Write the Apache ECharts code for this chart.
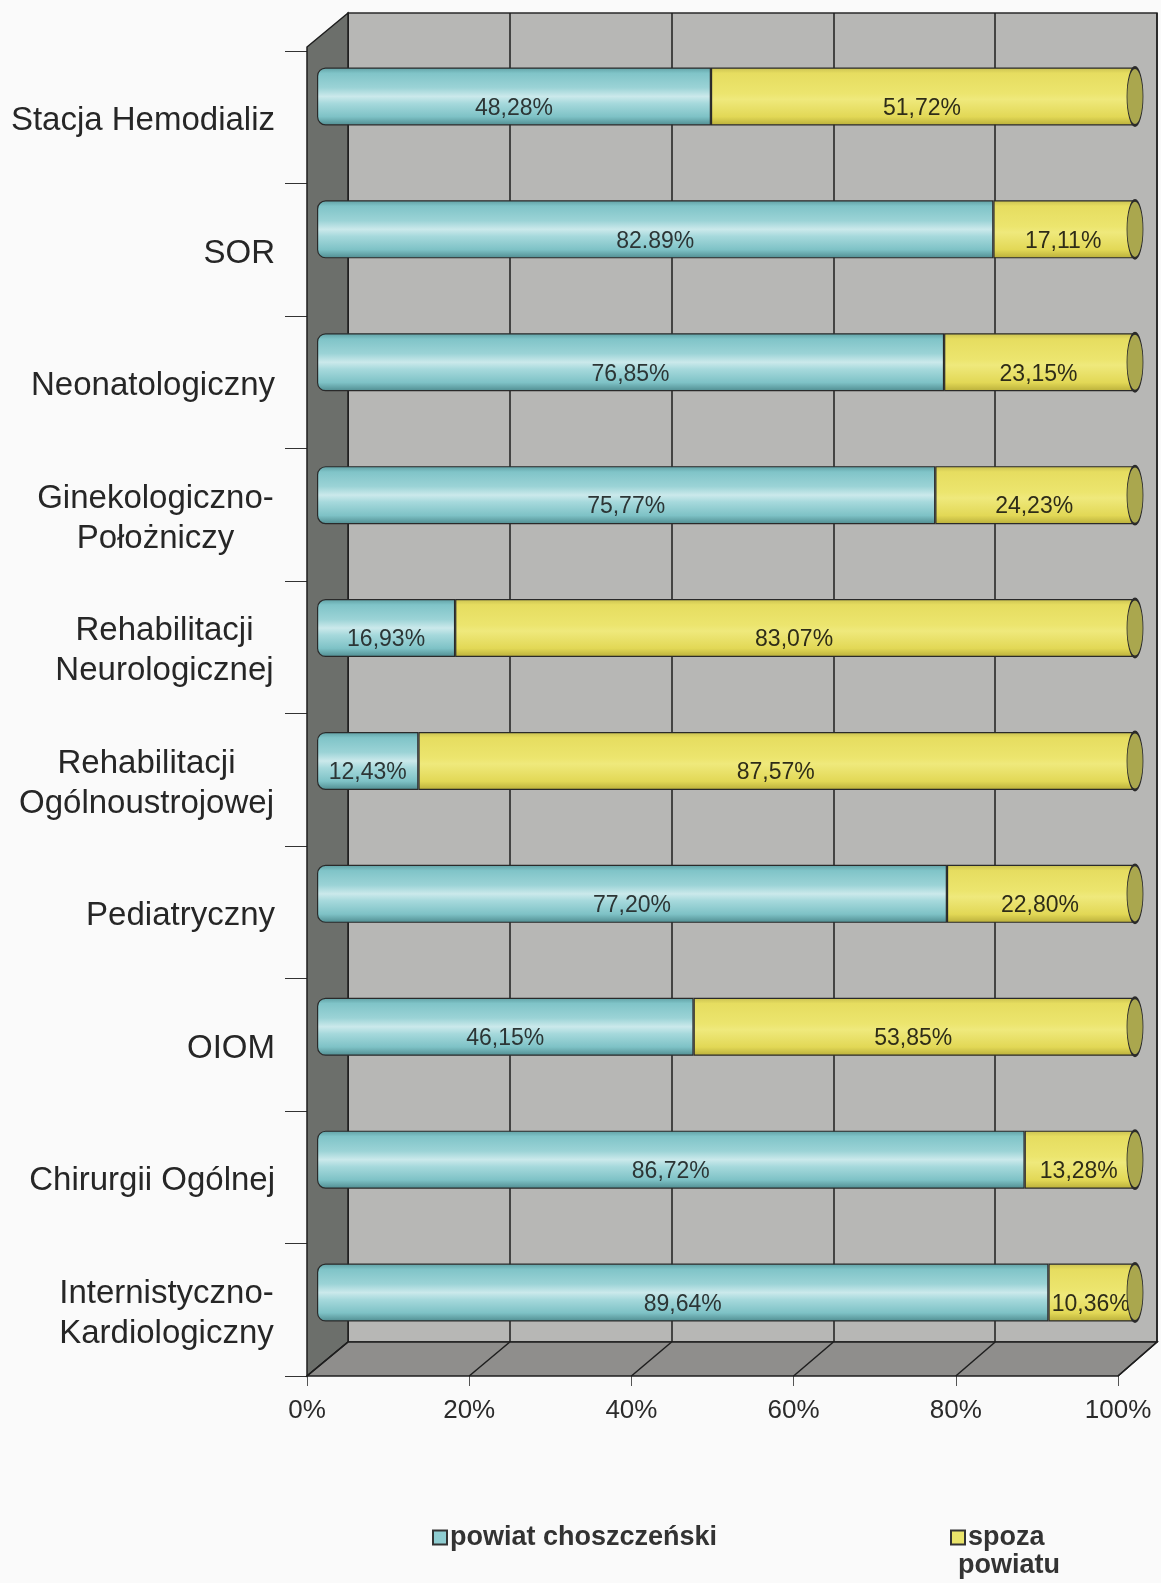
<!DOCTYPE html>
<html>
<head>
<meta charset="utf-8">
<script src="https://cdn.jsdelivr.net/npm/echarts@6/dist/echarts.min.js"></script>
<style>
  html, body { margin: 0; padding: 0; background: #fafafa; }
  #main { width: 1161px; height: 1583px; }
</style>
</head>
<body>
<div id="main"></div>
<script>
var categories = ['Stacja Hemodializ', 'SOR', 'Neonatologiczny', 'Ginekologiczno-\nPołożniczy',
    'Rehabilitacji\nNeurologicznej', 'Rehabilitacji\nOgólnoustrojowej', 'Pediatryczny', 'OIOM',
    'Chirurgii Ogólnej', 'Internistyczno-\nKardiologiczny'];
var localShare = [48.28, 82.89, 76.85, 75.77, 16.93, 12.43, 77.20, 46.15, 86.72, 89.64];
var outsideShare = [51.72, 17.11, 23.15, 24.23, 83.07, 87.57, 22.80, 53.85, 13.28, 10.36];
var seriesNames = ['powiat choszczeński', 'spoza powiatu'];
var xTicks = [0, 20, 40, 60, 80, 100];

// 3d box layout (back wall, front frame, bars in between)
var back = {left: 348, top: 13, width: 809, height: 1329};
var front = {left: 307, top: 47, width: 811, height: 1329};
var catGrid = {left: 307, top: 51, width: 811, height: 1325};
var mid = {left: 317, top: 30, width: 816, height: 1329};

var font = '"Liberation Sans", Arial, sans-serif';
var catSize = 33;

var myChart = echarts.init(document.getElementById('main'));

// two-line labels are centered line by line, block right-aligned
var ctx = document.createElement('canvas').getContext('2d');
ctx.font = catSize + 'px ' + font;
var rich = {};
categories.forEach(function (c, i) {
    var w = 0;
    c.split('\n').forEach(function (l) { w = Math.max(w, ctx.measureText(l).width); });
    rich['c' + i] = {width: Math.ceil(w) + 2, align: 'center', fontSize: catSize, lineHeight: 40,
        fontFamily: font, color: '#262626'};
});

function pct(v, sep) {
    return v.toFixed(2).replace('.', sep || ',') + '%';
}

var teal = new echarts.graphic.LinearGradient(0, 0, 0, 1, [
    {offset: 0, color: '#5f9fa3'}, {offset: 0.1, color: '#80c4c8'}, {offset: 0.35, color: '#9bd3d6'},
    {offset: 0.5, color: '#cbe9eb'}, {offset: 0.62, color: '#a6d9dc'}, {offset: 0.85, color: '#7ec2c6'},
    {offset: 1, color: '#4f8b8f'}
]);
var yellow = new echarts.graphic.LinearGradient(0, 0, 0, 1, [
    {offset: 0, color: '#c9c050'}, {offset: 0.1, color: '#e6dd60'}, {offset: 0.45, color: '#ece56e'},
    {offset: 0.55, color: '#efe97c'}, {offset: 0.85, color: '#e2d856'}, {offset: 1, color: '#b9ae3a'}
]);

var floorLines = xTicks.map(function (t) {
    var k = t / 100;
    return {
        type: 'line', z: 1,
        shape: {x1: back.left + back.width * k, y1: back.top + back.height,
                x2: front.left + front.width * k, y2: front.top + front.height},
        style: {stroke: '#1e1e1e', lineWidth: 1.5}
    };
});

var legendText = {fontSize: 27, fontWeight: 'bold', fontFamily: font, color: '#333', padding: [0, 0, 0, -2]};

var option = {
    backgroundColor: '#fafafa',
    animation: false,
    grid: [
        {left: back.left, top: back.top, width: back.width, height: back.height, show: true,
         backgroundColor: '#b7b7b5', borderColor: '#2a2a2a', borderWidth: 1.5, outerBoundsMode: 'none'},
        {left: catGrid.left, top: catGrid.top, width: catGrid.width, height: catGrid.height, outerBoundsMode: 'none'},
        {left: mid.left, top: mid.top, width: mid.width, height: mid.height, outerBoundsMode: 'none'}
    ],
    xAxis: [
        {gridIndex: 0, type: 'value', min: 0, max: 100, interval: 20,
         axisLine: {show: false}, axisTick: {show: false}, axisLabel: {show: false},
         splitLine: {lineStyle: {color: '#1e1e1e', width: 1.5}}},
        {gridIndex: 1, type: 'value', min: 0, max: 100, interval: 20,
         axisLine: {lineStyle: {color: '#1e1e1e', width: 1.5}},
         axisTick: {show: true, length: 10, lineStyle: {color: '#555'}},
         axisLabel: {margin: 22, fontSize: 26, fontFamily: font, color: '#2a2a2a',
            formatter: '{value}%'},
         splitLine: {show: false}},
        {gridIndex: 2, type: 'value', min: 0, max: 100, show: false}
    ],
    yAxis: [
        {gridIndex: 0, type: 'category', data: categories, inverse: true, show: false},
        {gridIndex: 1, type: 'category', data: categories, inverse: true,
         axisLine: {show: false},
         axisTick: {show: true, length: 22, lineStyle: {color: '#333'}},
         axisLabel: {margin: 32, fontSize: catSize, fontFamily: font, color: '#262626', lineHeight: 40,
            padding: [8, 0, 0, 0], rich: rich,
            formatter: function (v, i) {
                if (v.indexOf('\n') < 0) return v;
                return v.split('\n').map(function (l) { return '{c' + i + '|' + l + '}'; }).join('\n');
            }}},
        {gridIndex: 2, type: 'category', data: categories, inverse: true, show: false}
    ],
    legend: [
        {data: [{name: seriesNames[0], itemStyle: {color: '#8fcdd1'}}], left: 427, top: 1519,
         icon: 'rect', itemWidth: 14, itemHeight: 14,
         itemStyle: {borderColor: '#333', borderWidth: 2}, textStyle: legendText},
        {data: [{name: seriesNames[1], itemStyle: {color: '#e9e36a'}}], left: 945, top: 1519,
         icon: 'rect', itemWidth: 14, itemHeight: 14,
         itemStyle: {borderColor: '#333', borderWidth: 2}, textStyle: legendText,
         formatter: function (n) { return n.split(' ')[0]; }}
    ],
    graphic: [
        {type: 'polygon', z: 1,
         shape: {points: [[front.left, front.top], [back.left, back.top],
                          [back.left, back.top + back.height], [front.left, front.top + front.height]]},
         style: {fill: '#6c6f6b', stroke: '#1e1e1e', lineWidth: 1.5}},
        {type: 'polygon', z: 1,
         shape: {points: [[back.left, back.top + back.height], [back.left + back.width, back.top + back.height],
                          [front.left + front.width, front.top + front.height], [front.left, front.top + front.height]]},
         style: {fill: '#8f8e8c', stroke: '#1e1e1e', lineWidth: 1.5}},
        // second line of the wrapped legend entry
        {type: 'text', left: 958, top: 1552, z: 5,
         style: {text: seriesNames[1].split(' ')[1], font: 'bold 27px ' + font, fill: '#333'}}
    ].concat(floorLines),
    series: [
        {name: seriesNames[0], type: 'bar', stack: 'all', xAxisIndex: 2, yAxisIndex: 2,
         barWidth: 58, z: 3, data: localShare,
         itemStyle: {color: teal, borderColor: '#2a2a2a', borderWidth: 1.2, borderRadius: [8, 0, 0, 8]},
         label: {show: true, position: 'inside', offset: [0, 12], fontSize: 23, fontFamily: font, color: '#2c3535',
            formatter: function (p) { return pct(p.value, p.dataIndex === 1 ? '.' : ','); }}},
        {name: seriesNames[1], type: 'bar', stack: 'all', xAxisIndex: 2, yAxisIndex: 2,
         barWidth: 58, z: 3, data: outsideShare,
         itemStyle: {color: yellow, borderColor: '#2a2a2a', borderWidth: 1.2},
         label: {show: true, position: 'inside', offset: [0, 12], fontSize: 23, fontFamily: font, color: '#2e2c18',
            formatter: function (p) { return pct(p.value); }}},
        {name: 'cap', type: 'scatter', xAxisIndex: 2, yAxisIndex: 2, z: 4, silent: true,
         symbol: 'circle', symbolSize: [16, 58], symbolOffset: [2, 0],
         itemStyle: {color: '#aaa74e', borderColor: '#2a2a2a', borderWidth: 1.5, opacity: 1},
         data: localShare.map(function (v, i) { return [v + outsideShare[i], categories[i]]; })}
    ]
};

myChart.setOption(option);
</script>
</body>
</html>
